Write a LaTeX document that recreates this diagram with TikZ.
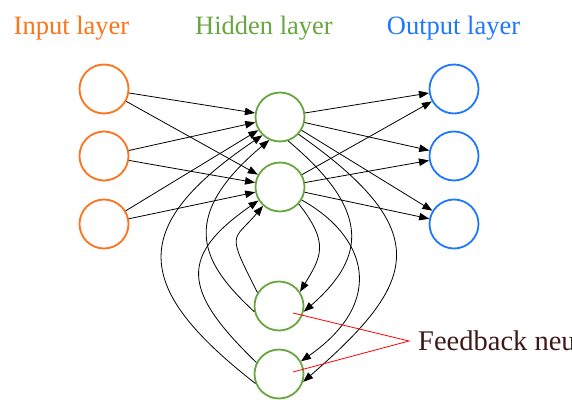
\documentclass[tikz,border=0pt]{standalone}
\usepackage{fontspec}
\setmainfont{Liberation Serif}
\usetikzlibrary{arrows.meta,calc}
\definecolor{inorange}{RGB}{255,115,25}
\definecolor{hidgreen}{RGB}{104,166,64}
\definecolor{outblue}{RGB}{30,120,255}
\definecolor{fbtext}{RGB}{64,24,24}
\begin{document}
\begin{tikzpicture}[x=1pt,y=1pt,
  neuron/.style={circle,draw,line width=1.8pt,minimum size=49pt,inner sep=0pt},
  conn/.style={line width=0.8pt,-{Triangle[length=10pt,width=7.5pt]}},
  title/.style={font=\fontsize{26.5}{30}\selectfont,anchor=base,inner sep=0pt},
  ptr/.style={red,line width=0.8pt}]
\useasboundingbox (0,0) rectangle (572,399);
\clip (0,0) rectangle (572,399);
% titles
\node[title,text=inorange] (tin) at (71.5,364) {Input layer};
\node[title,text=hidgreen] (thid) at (264,364) {Hidden layer};
\node[title,text=outblue] (tout) at (453.5,364) {Output layer};
% neurons
\node[neuron,draw=inorange] (in1) at (104,310) {};
\node[neuron,draw=inorange] (in2) at (104,243) {};
\node[neuron,draw=inorange] (in3) at (104,175) {};
\node[neuron,draw=hidgreen] (h1) at (280,282) {};
\node[neuron,draw=hidgreen] (h2) at (280,212) {};
\node[neuron,draw=hidgreen] (fb1) at (279,93) {};
\node[neuron,draw=hidgreen] (fb2) at (279,25) {};
\node[neuron,draw=outblue] (out1) at (454,310) {};
\node[neuron,draw=outblue] (out2) at (454,243) {};
\node[neuron,draw=outblue] (out3) at (454,175) {};
% input -> hidden
\foreach \i in {in1,in2,in3}{
  \foreach \h in {h1,h2}{
    \draw[conn] (\i) -- (\h);
  }
}
% hidden -> output
\foreach \h in {h1,h2}{
  \foreach \o in {out1,out2,out3}{
    \draw[conn] (\h) -- (\o);
  }
}
% hidden -> feedback (right side)
\draw[conn] (h2.-42) to[out=-52,in=59,out distance=50pt,in distance=41pt] (fb1.34);
\draw[conn] (h1.-71) to[out=-40,in=41,out distance=107pt,in distance=84pt] (fb1.-13);
\draw[conn] (h2.-31) to[out=-29,in=35,out distance=73pt,in distance=106pt] (fb2.30);
\draw[conn] (h1.-43) to[out=-35,in=41,out distance=171pt,in distance=149pt] (fb2.-18);
% feedback -> hidden (left side)
\draw[conn] (fb2.202) to[out=142,in=214,out distance=154pt,in distance=165pt] (h1.226);
\draw[conn] (fb2.153) to[out=136,in=215,out distance=105pt,in distance=96pt] (h2.212);
\draw[conn] (fb1.193) to[out=137,in=220,out distance=67pt,in distance=125pt] (h1.245);
\draw[conn] (fb1.148) to[out=117,in=230,out distance=70pt,in distance=47pt] (h2.228);
% feedback label
\node[font=\fontsize{28.5}{32}\selectfont,text=fbtext,anchor=base west,inner sep=0pt] (fbl) at (418,49) {Feedback neurons};
\coordinate (fbtip) at (409,58);
\draw[ptr] ($(fb1)+(14,-7)$) -- (fbtip) -- ($(fb2)+(14,2)$);
\end{tikzpicture}
\end{document}
